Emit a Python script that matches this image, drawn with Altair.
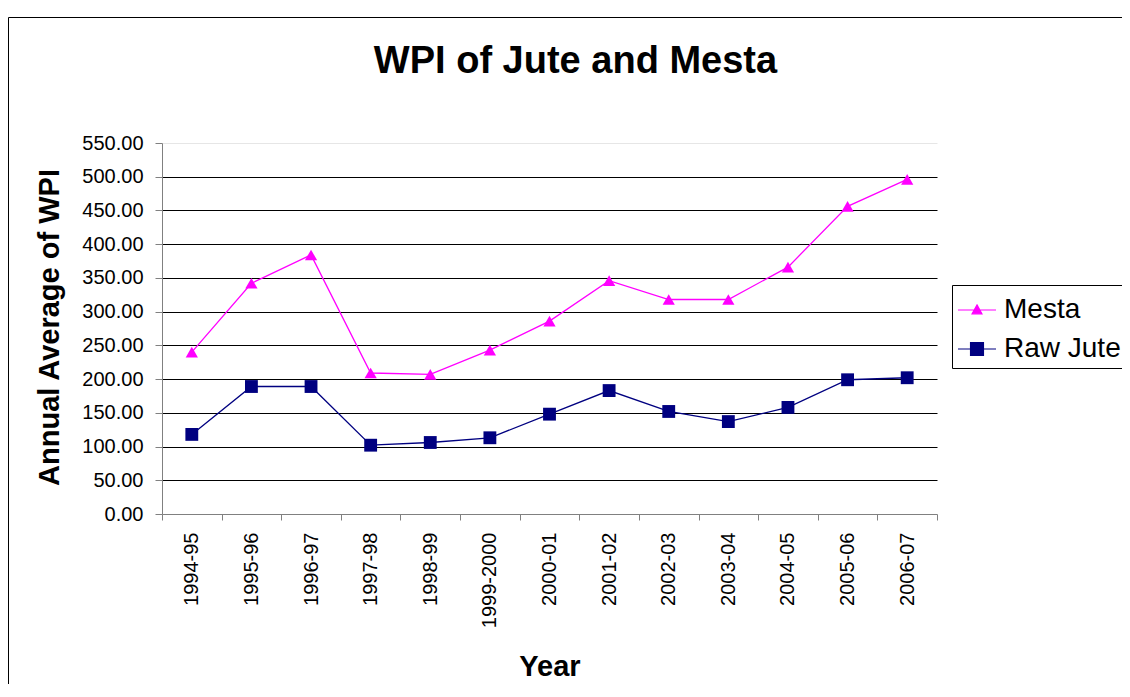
import altair as alt
import pandas as pd

years = ["1994-95", "1995-96", "1996-97", "1997-98", "1998-99", "1999-2000",
         "2000-01", "2001-02", "2002-03", "2003-04", "2004-05", "2005-06", "2006-07"]
mesta = [240, 342, 384, 209, 207, 243, 286, 346, 318, 318, 366, 456, 496]
raw_jute = [118, 189, 189, 102, 106, 113, 148, 183, 152, 137, 158, 199, 202]
series_names = ["Mesta", "Raw Jute"]
series_colors = ["#FF00FF", "#000080"]
y_ticks = list(range(0, 551, 50))

rows = []
for name, vals in zip(series_names, [mesta, raw_jute]):
    for yr, v in zip(years, vals):
        rows.append({"Year": yr, "Series": name, "Value": v})
df = pd.DataFrame(rows)

FONT = "Liberation Sans"
W, H = 775, 371

x_enc = alt.X(
    "Year:O", sort=years,
    scale=alt.Scale(type="band", paddingInner=0, paddingOuter=0),
    axis=alt.Axis(
        title="Year", titleFont=FONT, titleFontSize=29, titleFontWeight="bold",
        titleColor="black", titleY=161, titleBaseline="alphabetic",
        labelFont=FONT, labelFontSize=20, labelColor="black", labelAngle=270,
        labelAlign="right", labelBaseline="middle", labelPadding=12,
        tickBand="extent", tickSize=6, tickColor="#808080",
        domainColor="#808080", grid=False,
    ),
)
y_enc = alt.Y(
    "Value:Q",
    scale=alt.Scale(domain=[0, 550], nice=False),
    axis=alt.Axis(
        title="Annual Average of WPI", titleFont=FONT, titleFontSize=29,
        titleFontWeight="bold", titleColor="black", titleAngle=270,
        titleX=-104, titleY=184, titleAlign="center", titleBaseline="alphabetic",
        values=y_ticks, format=".2f",
        labelFont=FONT, labelFontSize=20, labelColor="black", labelPadding=12,
        tickSize=7, tickColor="#808080", domainColor="#808080",
        grid=True, gridWidth=1,
        gridColor={"condition": [
            {"test": "datum.value === 0", "value": "transparent"},
            {"test": "datum.value === 550", "value": "#e6e6e6"}],
            "value": "black"},
    ),
)
# colour scale for the drawn lines/markers (data-derived domain, no legend)
color_enc = alt.Color("Series:N",
                      scale=alt.Scale(range=series_colors),
                      legend=None)

base = alt.Chart(df).encode(x=x_enc, y=y_enc)

lines = base.mark_line(strokeWidth=1.3).encode(color=color_enc)
tri = base.transform_filter(alt.datum.Series == "Mesta").mark_point(
    shape="triangle-up", filled=True, size=150, opacity=1).encode(color=color_enc)
sq = base.transform_filter(alt.datum.Series == "Raw Jute").mark_point(
    shape="square", filled=True, size=165, opacity=1).encode(color=color_enc)

legend_paths = ["M-1,0H1M0,-0.27L0.26,0.2L-0.26,0.2Z",
                "M-1,0H1M-0.34,-0.34H0.34V0.34H-0.34Z"]
legend_obj = alt.Legend(
    title=None, orient="none", legendX=790, legendY=142,
    labelFont=FONT, labelFontSize=28, labelColor="black", labelOffset=7,
    symbolOpacity=1, symbolStrokeWidth=1.2, symbolSize=1444,
    strokeColor="black", fillColor="white", padding=5, rowPadding=5,
)
leg = base.mark_point(filled=True, size=1444, opacity=0).encode(
    fill=alt.Fill("Series:N", scale=alt.Scale(domain=series_names, range=series_colors),
                  legend=legend_obj),
    stroke=alt.Stroke("Series:N", scale=alt.Scale(domain=series_names, range=series_colors),
                      legend=legend_obj),
    shape=alt.Shape("Series:N", scale=alt.Scale(domain=series_names, range=legend_paths),
                    legend=legend_obj),
)

frame = alt.Chart(alt.Data(values=[{}])).mark_rect(
    fill="white", fillOpacity=0, stroke="black", strokeWidth=1).encode(
    x=alt.value(-153.5), x2=alt.value(2000), y=alt.value(-125.5), y2=alt.value(2000))

chart = alt.layer(frame, lines, tri, sq, leg).properties(
    width=W, height=H,
    title=alt.TitleParams("WPI of Jute and Mesta", font=FONT, fontSize=38,
                          fontWeight="bold", color="black", anchor="middle",
                          frame="group", dx=26, offset=0, dy=94,
                          baseline="alphabetic"),
    autosize=alt.AutoSizeParams(type="none"),
    padding={"left": 154, "top": 135, "right": 185, "bottom": 170},
    background="white",
).configure_view(stroke=None)

chart.save("out.html", embed_options={"renderer": "svg", "actions": False})
